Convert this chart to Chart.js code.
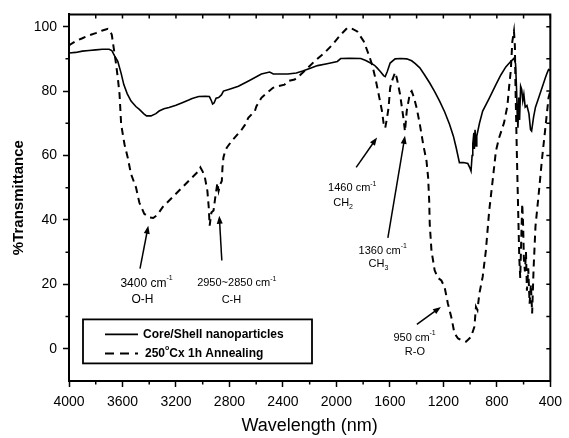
<!DOCTYPE html>
<html>
<head>
<meta charset="utf-8">
<script src="https://cdn.jsdelivr.net/npm/chart.js@4.4.0/dist/chart.umd.min.js"></script>
<style>
  body { margin: 0; background: #fff; }
  canvas { display: block; }
</style>
</head>
<body>
<canvas id="ftir" width="569" height="438"></canvas>
<script>
// Core/Shell nanoparticles (solid line)
const coreX = [4000, 3950, 3900, 3850, 3800, 3750, 3700, 3680, 3660, 3635, 3610, 3590, 3565, 3536, 3500, 3474, 3440, 3420, 3387, 3350,
  3326, 3290, 3252, 3200, 3153, 3100, 3079, 3030, 2980, 2950, 2935, 2926, 2915, 2900, 2881, 2860, 2845, 2800, 2733, 2650,
  2561, 2499, 2472, 2420, 2363, 2300, 2252, 2200, 2141, 2070, 1993, 1968, 1900, 1818, 1780, 1745, 1715, 1696, 1670, 1647,
  1635, 1620, 1598, 1561, 1520, 1474, 1437, 1410, 1376, 1340, 1302, 1265, 1228, 1190, 1154, 1125, 1104, 1080, 1050, 1017,
  1000, 993, 985, 980, 972, 968, 963, 955, 950, 930, 906, 860, 807, 770, 733, 700, 672, 660, 652, 647,
  642, 636, 630, 622, 614, 606, 598, 588, 575, 560, 548, 540, 525, 511, 487, 462, 437, 425, 413, 400];
const coreY = [91.8, 92.0, 92.4, 92.6, 92.8, 93.0, 93.0, 92.6, 91.0, 89.2, 85.5, 82.0, 79.2, 76.9, 75.2, 74.3, 72.9, 72.3, 72.3, 73.0,
  73.8, 74.5, 74.9, 75.6, 76.4, 77.3, 77.7, 78.3, 78.4, 78.3, 77.0, 76.0, 76.3, 77.8, 78.0, 78.8, 80.0, 80.6, 81.5, 83.3,
  85.3, 85.9, 85.3, 85.3, 85.3, 85.6, 86.2, 87.0, 87.9, 88.5, 89.2, 90.1, 90.2, 90.1, 89.5, 88.7, 88.0, 87.2, 86.0, 84.8,
  84.5, 86.0, 88.7, 90.0, 90.1, 90.0, 89.4, 88.5, 87.2, 85.0, 82.5, 79.8, 76.9, 73.5, 69.7, 66.0, 62.4, 57.8, 57.8, 57.5,
  56.0, 55.2, 60.0, 63.5, 67.0, 62.0, 68.0, 63.0, 66.0, 70.0, 73.8, 77.5, 82.0, 85.0, 87.5, 89.0, 90.2, 88.5, 80.0, 72.0,
  68.6, 78.0, 71.0, 81.5, 80.5, 77.0, 79.0, 75.0, 75.5, 73.0, 68.0, 67.6, 72.0, 75.0, 77.9, 81.0, 84.1, 85.5, 86.7, 86.5];

// 250 C x 1h annealing (dashed line)
const annealX = [4000, 3993, 3950, 3900, 3869, 3800, 3750, 3709, 3696, 3680, 3671, 3650, 3635, 3622, 3610, 3585, 3561, 3536, 3499, 3474,
  3437, 3400, 3370, 3340, 3301, 3227, 3153, 3079, 3030, 3017, 3000, 2985, 2965, 2955, 2948, 2935, 2919, 2906, 2890, 2881,
  2869, 2857, 2852, 2845, 2832, 2820, 2783, 2709, 2684, 2659, 2610, 2598, 2561, 2548, 2474, 2462, 2388, 2363, 2313, 2289,
  2239, 2165, 2091, 2030, 1968, 1919, 1880, 1844, 1795, 1758, 1733, 1709, 1684, 1659, 1647, 1635, 1620, 1610, 1598, 1585,
  1561, 1548, 1524, 1499, 1487, 1474, 1450, 1437, 1420, 1400, 1376, 1351, 1326, 1314, 1306, 1302, 1289, 1265, 1240, 1215,
  1191, 1166, 1141, 1117, 1090, 1067, 1030, 993, 968, 956, 945, 931, 906, 882, 857, 832, 807, 783, 746, 721,
  709, 696, 684, 672, 665, 660, 650, 640, 632, 625, 618, 610, 603, 598, 590, 582, 575, 565, 555, 545,
  536, 525, 511, 487, 462, 437, 413, 400];
const annealY = [94.0, 94.4, 95.5, 96.4, 97.0, 98.0, 98.8, 99.3, 99.0, 97.5, 94.9, 89.0, 84.1, 79.0, 69.7, 63.5, 59.4, 54.2, 50.1, 45.4,
  41.9, 40.8, 40.6, 41.5, 43.9, 47.0, 50.1, 53.2, 55.2, 56.3, 55.0, 53.5, 49.0, 44.0, 38.2, 42.3, 42.9, 47.0, 51.5, 49.0,
  51.0, 52.1, 56.3, 59.4, 61.4, 62.4, 64.5, 68.0, 69.5, 71.7, 73.8, 75.3, 77.9, 78.4, 81.0, 81.2, 82.0, 83.1, 83.6, 84.3,
  86.2, 89.2, 91.8, 94.4, 97.5, 99.6, 99.3, 98.5, 95.4, 91.3, 88.2, 84.1, 79.0, 73.8, 70.0, 68.5, 72.0, 74.8, 81.0, 83.1,
  85.8, 84.0, 79.0, 71.7, 67.5, 73.8, 79.4, 80.0, 78.0, 74.8, 69.7, 63.5, 58.3, 53.2, 46.0, 38.8, 30.5, 24.3, 22.0, 21.2,
  19.2, 14.0, 9.9, 4.8, 3.2, 2.7, 2.2, 3.7, 6.8, 13.0, 12.0, 17.1, 22.3, 30.5, 42.9, 52.0, 61.4, 65.5, 70.2, 75.4,
  81.0, 86.2, 95.4, 98.6, 94.0, 80.0, 60.0, 42.0, 28.0, 22.0, 33.0, 45.0, 38.0, 28.0, 24.0, 30.0, 18.0, 25.0, 14.0, 20.0,
  11.0, 25.0, 38.0, 48.0, 59.0, 68.6, 78.0, 80.0];

const seriesNames = ['Core/Shell nanoparticles', '250°Cx 1h Annealing'];
const yTickValues = [0, 20, 40, 60, 80, 100];

// peak labels: text parts, anchor in data units, arrow tail -> head in data units
const peakNotes = [
  { line1: [['3400 cm'], ['-1', 'sup']], line2: [['O-H']], size: 12, p1: [3420, 20.3], p2: [3450, 15.3], from: [3469, 24.9], to: [3407, 38.2] },
  { line1: [['2950~2850 cm'], ['-1', 'sup']], line2: [['C-H']], size: 11, p1: [2745, 20.3], p2: [2785, 15.3], from: [2857, 27.4], to: [2876, 41.3] },
  { line1: [['1460 cm'], ['-1', 'sup']], line2: [['CH'], ['2', 'sub']], size: 11, p1: [1881, 49.8], p2: [1950, 45.2], from: [1852, 56.3], to: [1696, 65.6] },
  { line1: [['1360 cm'], ['-1', 'sup']], line2: [['CH'], ['3', 'sub']], size: 11, p1: [1653, 30.3], p2: [1686, 26.4], from: [1615, 34.4], to: [1487, 66.1] },
  { line1: [['950 cm'], ['-1', 'sup']], line2: [['R-O']], size: 11, p1: [1415, 3.3], p2: [1413, -1.0], from: [1398, 7.6], to: [1218, 13.0] }
];

const FONT = "'Liberation Sans', Arial, sans-serif";
Chart.defaults.font.family = FONT;
Chart.defaults.color = '#000';

function toPoints(xs, ys) {
  return xs.map((x, i) => ({ x: x, y: ys[i] }));
}

// draw text made of normal / superscript / subscript pieces
function drawParts(ctx, parts, x, y, size, bold, align) {
  const w = parts.map(p => {
    const s = p[1] ? Math.round(size * 0.62) : size;
    ctx.font = (bold ? 'bold ' : '') + s + 'px ' + FONT;
    return ctx.measureText(p[0]).width;
  });
  const total = w.reduce((a, b) => a + b, 0);
  let cx = align === 'left' ? x : x - total / 2;
  ctx.textBaseline = 'middle';
  ctx.textAlign = 'left';
  parts.forEach((p, i) => {
    const s = p[1] ? Math.round(size * 0.62) : size;
    ctx.font = (bold ? 'bold ' : '') + s + 'px ' + FONT;
    let dy = 0;
    if (p[1] === 'sup') dy = -size * 0.42;
    if (p[1] === 'sub') dy = size * 0.38;
    ctx.fillText(p[0], cx, y + dy);
    cx += w[i];
  });
}

function arrow(ctx, x1, y1, x2, y2) {
  const a = Math.atan2(y2 - y1, x2 - x1);
  const len = 8, half = 3;
  ctx.beginPath();
  ctx.moveTo(x1, y1);
  ctx.lineTo(x2 - Math.cos(a) * len * 0.8, y2 - Math.sin(a) * len * 0.8);
  ctx.stroke();
  ctx.beginPath();
  ctx.moveTo(x2, y2);
  ctx.lineTo(x2 - Math.cos(a) * len - Math.sin(a) * half, y2 - Math.sin(a) * len + Math.cos(a) * half);
  ctx.lineTo(x2 - Math.cos(a) * len + Math.sin(a) * half, y2 - Math.sin(a) * len - Math.cos(a) * half);
  ctx.closePath();
  ctx.fill();
}

const framePlugin = {
  id: 'frame',
  afterDraw(chart) {
    const ctx = chart.ctx;
    const xs = chart.scales.x, ys = chart.scales.y;
    const a = chart.chartArea;
    ctx.save();
    ctx.strokeStyle = '#000';
    ctx.fillStyle = '#000';

    // top and right border
    ctx.lineWidth = 2;
    ctx.beginPath();
    ctx.moveTo(a.left - 1, a.top);
    ctx.lineTo(a.right, a.top);
    ctx.lineTo(a.right, a.bottom + 1);
    ctx.stroke();

    // minor ticks and mirrored ticks
    ctx.lineWidth = 1.5;
    ctx.beginPath();
    for (let v = 400; v <= 4000; v += 200) {
      const px = xs.getPixelForValue(v);
      ctx.moveTo(px, a.top);
      ctx.lineTo(px, a.top + 4);
      if (v % 400 !== 0) {
        ctx.moveTo(px, a.bottom);
        ctx.lineTo(px, a.bottom + 3.5);
      }
    }
    for (let v = 0; v <= 100; v += 10) {
      const py = ys.getPixelForValue(v);
      ctx.moveTo(a.right, py);
      ctx.lineTo(a.right - 4, py);
      if (v % 20 !== 0) {
        ctx.moveTo(a.left, py);
        ctx.lineTo(a.left - 3.5, py);
      }
    }
    ctx.stroke();

    // peak labels with arrows
    ctx.lineWidth = 1.5;
    peakNotes.forEach(n => {
      drawParts(ctx, n.line1, xs.getPixelForValue(n.p1[0]), ys.getPixelForValue(n.p1[1]), n.size, false, 'center');
      drawParts(ctx, n.line2, xs.getPixelForValue(n.p2[0]), ys.getPixelForValue(n.p2[1]), n.size, false, 'center');
      arrow(ctx, xs.getPixelForValue(n.from[0]), ys.getPixelForValue(n.from[1]),
        xs.getPixelForValue(n.to[0]), ys.getPixelForValue(n.to[1]));
    });

    // legend box
    const bx = a.left + 14, by = a.top + 305, bw = 229, bh = 44;
    ctx.fillStyle = '#fff';
    ctx.fillRect(bx, by, bw, bh);
    ctx.lineWidth = 1.8;
    ctx.strokeRect(bx, by, bw, bh);
    ctx.fillStyle = '#000';
    const sets = chart.data.datasets;
    const rows = [by + 15, by + 34];
    sets.forEach((ds, i) => {
      ctx.lineWidth = ds.borderWidth;
      ctx.setLineDash(i === 1 ? [9, 6] : []);
      ctx.beginPath();
      ctx.moveTo(bx + 22, rows[i]);
      ctx.lineTo(bx + 55, rows[i]);
      ctx.stroke();
    });
    ctx.setLineDash([]);
    drawParts(ctx, [[seriesNames[0]]], bx + 60, rows[0], 12, true, 'left');
    drawParts(ctx, [['250'], ['o', 'sup'], ['Cx 1h Annealing']], bx + 62, rows[1], 12, true, 'left');
    ctx.restore();
  }
};

const ctx = document.getElementById('ftir').getContext('2d');
const ftirChart = new Chart(ctx, {
  type: 'line',
  data: {
    datasets: [
      {
        label: seriesNames[0],
        data: toPoints(coreX, coreY),
        borderColor: '#000',
        borderWidth: 1.6,
        pointRadius: 0,
        tension: 0,
        fill: false
      },
      {
        label: seriesNames[1],
        data: toPoints(annealX, annealY),
        borderColor: '#000',
        borderWidth: 2,
        borderDash: [7, 5],
        pointRadius: 0,
        tension: 0,
        fill: false
      }
    ]
  },
  options: {
    responsive: false,
    animation: false,
    layout: { padding: { top: 13, right: 14, left: 0, bottom: 0 } },
    plugins: {
      legend: { display: false },
      tooltip: { enabled: false }
    },
    scales: {
      x: {
        type: 'linear',
        reverse: true,
        min: 400,
        max: 4000,
        ticks: { stepSize: 400, padding: 7, font: { size: 14 }, color: '#000', callback: v => String(v) },
        grid: { drawOnChartArea: false, tickLength: 6, tickWidth: 1.5, tickColor: '#000' },
        border: { color: '#000', width: 2 },
        title: { display: true, text: 'Wavelength (nm)', font: { size: 18 }, padding: { top: 0, bottom: 1 }, color: '#000' },
        afterFit(scale) { scale.height = 57; }
      },
      y: {
        min: -10,
        max: 103.8,
        afterBuildTicks(scale) { scale.ticks = yTickValues.map(v => ({ value: v })); },
        ticks: { padding: 6, font: { size: 14 }, color: '#000', callback: v => String(v) },
        grid: { drawOnChartArea: false, tickLength: 6, tickWidth: 1.5, tickColor: '#000' },
        border: { color: '#000', width: 2 },
        title: { display: true, text: '%Transmittance', font: { size: 15, weight: 'bold' }, padding: { top: 10, bottom: 0 }, color: '#000' },
        afterFit(scale) { scale.width = 69; }
      }
    }
  },
  plugins: [framePlugin]
});
</script>
</body>
</html>
